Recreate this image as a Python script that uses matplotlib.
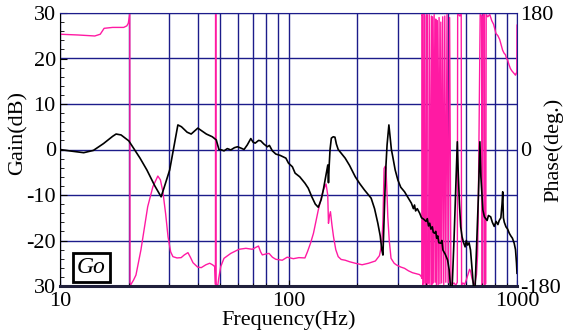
import matplotlib.pyplot as plt
from matplotlib.ticker import MultipleLocator, NullFormatter, LogLocator

plt.rcParams['font.family'] = ['Liberation Serif', 'DejaVu Serif']

# gain curve (dB)
gain_freq = [10, 11, 12.7, 14, 15.5, 17, 17.6, 18.5, 20, 21.5, 22.4, 24, 26, 27.7, 28.5,
             30.2, 31.5, 32.8, 34, 36, 37.5, 40.1, 42, 43.7, 46.4, 48.3, 49.6, 51, 52.2,
             54, 55.9, 58, 59.8, 62, 63.9, 66, 68.4, 70, 71.5, 74, 75.6, 78, 80.8, 82.5,
             85, 88, 92, 97.4, 100, 104, 106.9, 112, 118, 122, 126.5, 131, 135, 139, 142,
             146, 148.6, 149.6, 150.5, 152, 154, 157, 159.7, 162, 165, 170, 177, 185, 196,
             205, 215, 224, 230, 238, 246, 252, 256, 259, 262, 266, 270, 275, 278, 282,
             286, 293, 301, 310, 322, 333, 345, 352, 356, 360, 366, 375, 382, 390, 400,
             405, 410, 415, 420, 426, 430, 436, 441, 445, 450, 455, 464, 469, 474, 485,
             497, 505, 513, 520, 530, 538, 548, 553, 560, 567, 575, 584, 593, 600, 608,
             617, 626, 635, 647, 655, 665, 678, 688, 695, 709, 720, 730, 740, 750, 767,
             780, 795, 810, 825, 836, 850, 860, 866, 872, 880, 895, 910, 925, 940, 955,
             972, 985, 995, 1000]
gain_db = [0.0, -0.3, -0.7, -0.2, 1.3, 2.9, 3.4, 3.2, 1.9, -0.5, -1.9, -4.5, -8.0, -10.4, -8.5,
           -4.5, 0.5, 5.4, 5.0, 3.8, 3.4, 4.7, 4.0, 3.4, 2.8, 2.1, 0.0, -0.1, -0.3,
           0.2, -0.1, 0.4, 0.6, 0.3, 0.0, 1.0, 2.4, 1.6, 1.4, 2.0, 1.9, 1.2, 0.6, 0.9,
           -0.3, -1.0, -1.3, -1.9, -3.0, -3.8, -5.2, -6.0, -7.4, -8.5, -10.4, -12.0, -12.7, -11.0, -8.9,
           -5.5, -3.4, -7.3, -4.0, 0.0, 2.5, 2.8, 2.7, 1.2, 0.0, -0.8, -1.9, -3.5, -6.0,
           -7.5, -8.9, -10.0, -10.7, -13.0, -16.2, -19.0, -22.0, -23.2, -15.0, -5.0, 1.0, 5.4, 3.0, 0.0,
           -1.6, -4.5, -6.7, -8.3, -9.3, -10.5, -11.8, -13.0, -12.2, -13.5, -13.0, -14.0, -15.0, -15.3, -15.8,
           -15.2, -16.8, -16.2, -17.5, -17.0, -18.2, -18.4, -18.0, -19.5, -19.0, -20.5, -20.6, -20.0, -22.1, -23.0,
           -24.3, -26.5, -31.0, -30.5, -20.0, -10.0, 1.7, -5.0, -12.0, -17.0, -19.2, -20.5, -21.4, -20.0, -21.0,
           -20.5, -22.1, -26.0, -31.0, -31.0, -22.0, -10.0, 1.7, -6.0, -13.3, -14.8, -15.2, -15.6, -14.5, -14.8,
           -16.0, -16.9, -15.8, -16.5, -15.6, -15.0, -12.0, -9.3, -15.0, -16.0, -17.0, -17.5, -18.4, -19.0, -19.5,
           -20.6, -22.0, -25.0, -27.2]

# phase curve (deg.)
phase_freq = [10, 12, 14.2, 15, 15.6, 17, 19.0, 19.6, 19.9, 20.2, 20.25, 21.0, 21.5, 22.6, 24.2,
              25.5, 26.8, 27.5, 28.2, 29.0, 29.7, 30.5, 31.2, 32.5, 33.9, 35, 36.3, 37.2, 38.2,
              40, 41.5, 43.5, 45.2, 46.5, 47.6, 47.9, 47.95, 48.1, 48.15, 48.6, 49.0, 49.5, 50.5,
              52.2, 55.9, 60.7, 65.1, 69.5, 72, 73.9, 75.5, 76.8, 79, 82.2, 85, 88, 93.9, 98.7,
              105, 111, 118, 121, 124.8, 128.6, 135, 142, 146, 148.5, 149.6, 151, 152.6, 155,
              157.4, 161, 165, 170, 177, 185, 196, 210, 224, 240, 250, 256, 259, 262, 265, 267,
              270, 272, 276, 281, 290, 297, 310, 322, 335, 349, 365, 375, 382,
              383, 384, 386, 387, 391, 392, 395, 397, 400, 403, 405, 410, 413, 416, 422,
              424, 427, 430, 434, 438, 441, 444, 448, 452, 456, 460, 464, 468,
              473, 478, 483, 488, 494, 500, 507, 514,
              520, 530, 540, 548, 550, 556, 562, 570, 572, 580, 590, 600, 610, 620, 626,
              635, 647, 655, 665, 672, 676, 679, 683, 687, 690, 700, 702, 708, 710, 720,
              722, 730, 733, 745, 760, 775, 790, 809, 825, 840, 852, 865, 878, 890, 900,
              910, 922, 935, 948, 960, 972, 985, 993, 998, 1000]
phase_deg = [152, 151, 149.7, 152, 159.8, 161, 161, 163, 166.4, 178.7, -180, -172, -165.5, -132.5, -75.4,
             -49, -35, -40, -55.6, -85, -115, -135, -141.3, -143, -142.6, -139, -136, -142, -149.3,
             -155, -155.8, -152, -150, -152, -154.5, -178, 180, 179, -180, -179, -180, -170, -154.5,
             -143.5, -137, -131.6, -130.3, -131.6, -129, -127.3, -135, -139, -138, -137, -142, -144.8, -146, -142,
             -144, -142.6, -143, -135, -123.7, -110.5, -79.8, -53.4, -45.5, -60, -97.3, -88, -82, -100,
             -115, -132, -141.3, -145, -146, -148, -150, -152, -150, -147, -140, -125, -93, -25, -22, -24,
             -60, -88.6, -120, -143.5, -150, -152.3, -155, -156.7, -160, -162.5, -164, -165, -168,
             -170, 178, 176, -178, -176, 179, 176, -179, -177, 178, -178, -176, 178, -178, 176,
             -178, 175, -176, 178, -175, 172, -179, 170, -178, 174, -177, 168, -176,
             175, -178, 176, -175, 178, -176, 174, -175,
             -178, -176, -179, -175, 179, 178, 176, 179, -179, -176, -178, -172, -165, -158, -160,
             -170, -178, -176, -165, -140, -95, -40, 40, 120, 178, 176, -179, -178, 179, 178,
             -178, -177, 178, 175, 178, 170, 165, 153, 150, 145, 138, 131, 127, 125, 120,
             118, 112, 107, 104, 102, 100, 98, 101, 100, 164]

freq_ticks = [10, 100, 1000]
freq_labels = ['10', '100', '1000']
gain_ticks = [-30, -20, -10, 0, 10, 20, 30]
gain_labels = ['30', '-20', '-10', '0', '10', '20', '30']
phase_ticks = [-180, -120, -60, 0, 60, 120, 180]
phase_labels = ['-180', '', '', '0', '', '', '180']

navy = '#1c1c8a'

fig = plt.figure(figsize=(5.64, 3.33), dpi=100)
ax = fig.add_axes([60 / 564, 1 - 286 / 333, 457 / 564, 273 / 333])
ax.set_xscale('log')
axp = ax.twinx()
ax.set_zorder(axp.get_zorder() + 1)
ax.patch.set_visible(False)

# phase + grid on the lower axes
axp.plot(phase_freq, phase_deg, color='#ff1aa3', lw=1.0, zorder=3)
axp.set_ylim(-180, 180)
axp.set_yticks(phase_ticks, phase_labels)
axp.tick_params(axis='y', length=0, pad=2, labelsize=16)
axp.xaxis.set_visible(True)
axp.tick_params(axis='x', which='both', length=0, labelbottom=False, labeltop=False)
axp.grid(True, axis='y', color=navy, lw=1.0)
axp.grid(True, axis='x', which='both', color=navy, lw=1.0)
for s in axp.spines.values():
    s.set_visible(False)
axp.set_ylabel('Phase(deg.)', fontsize=16)
axp.yaxis.set_label_coords(1.058, 0.5)

# gain on the upper axes
ax.plot(gain_freq, gain_db, color='black', lw=1.2, zorder=4)
ax.set_xlim(10, 1000)
ax.set_ylim(-30, 30)
ax.set_xticks(freq_ticks, freq_labels)
ax.xaxis.set_minor_locator(LogLocator(base=10, subs=range(2, 10)))
ax.xaxis.set_minor_formatter(NullFormatter())
ax.set_yticks(gain_ticks, gain_labels)
ax.yaxis.set_minor_locator(MultipleLocator(2))
ax.tick_params(axis='both', which='both', direction='in', labelsize=16)
ax.tick_params(axis='y', which='major', length=5, pad=3)
ax.tick_params(axis='y', which='minor', length=3)
ax.tick_params(axis='x', which='major', length=4, pad=4)
ax.tick_params(axis='x', which='minor', length=2)
ax.set_ylabel('Gain(dB)', fontsize=16)
ax.yaxis.set_label_coords(-0.07, 0.56)
ax.set_xlabel('Frequency(Hz)', fontsize=16, labelpad=0)

ax.spines['left'].set_color('black')
ax.spines['bottom'].set_color('#20203c')
ax.spines['bottom'].set_linewidth(2.2)
ax.spines['top'].set_color(navy)
ax.spines['right'].set_color(navy)

ax.text(0.069, 0.068, 'Go', transform=ax.transAxes, fontsize=17, style='italic',
        ha='center', va='center', zorder=6,
        bbox=dict(boxstyle='square,pad=0.18', fc='white', ec='black', lw=2))

fig.savefig('out.png', dpi=100)
plt.close(fig)
